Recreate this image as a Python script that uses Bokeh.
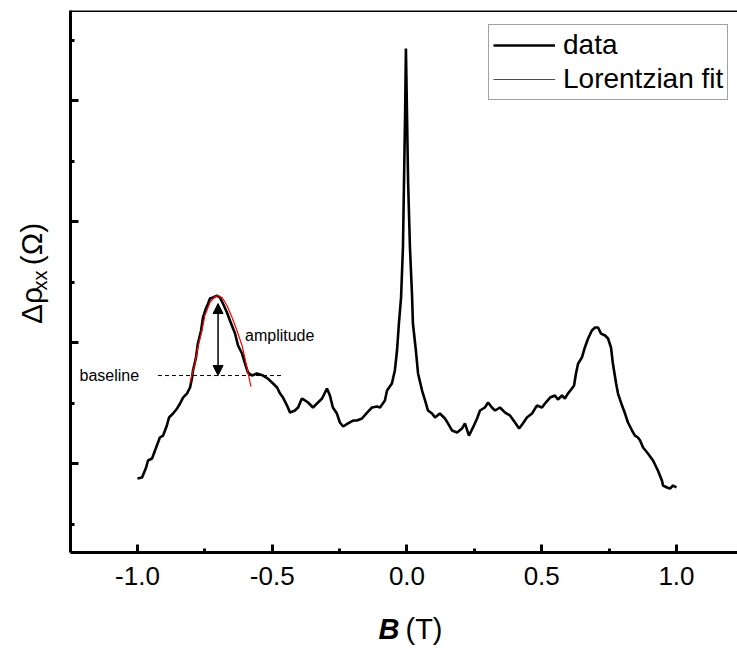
import math
from bokeh.plotting import figure
from bokeh.layouts import row, column
from bokeh.models import (Range1d, FixedTicker, Label, Legend, LegendItem,
                          Arrow, NormalHead, Span)
from bokeh.embed import file_html
from bokeh.resources import INLINE

# ---------------- data ----------------
B_data = [-1.000, -0.983, -0.968, -0.961, -0.946, -0.935, -0.917, -0.905, -0.891, -0.883,
          -0.868, -0.853, -0.842, -0.831, -0.816, -0.805, -0.798, -0.794, -0.783, -0.776,
          -0.764, -0.757, -0.746, -0.738, -0.731, -0.720, -0.705, -0.694, -0.683, -0.668,
          -0.657, -0.638, -0.627, -0.612, -0.601, -0.590, -0.575, -0.557, -0.534, -0.516,
          -0.497, -0.482, -0.471, -0.460, -0.445, -0.434, -0.416, -0.404, -0.390, -0.378,
          -0.367, -0.349, -0.334, -0.315, -0.297, -0.286, -0.275, -0.260, -0.249, -0.237,
          -0.219, -0.200, -0.186, -0.167, -0.148, -0.130, -0.111, -0.100, -0.082, -0.074,
          -0.056, -0.045, -0.037, -0.030, -0.022, -0.015, -0.011, -0.007, -0.004,
          0.000, 0.004, 0.011, 0.019, 0.022, 0.033, 0.041, 0.056, 0.067, 0.078,
          0.093, 0.104, 0.122, 0.141, 0.152, 0.167, 0.186, 0.204, 0.215, 0.230,
          0.245, 0.260, 0.271, 0.289, 0.301, 0.315, 0.327, 0.345, 0.364, 0.382,
          0.401, 0.416, 0.430, 0.445, 0.464, 0.482, 0.501, 0.512, 0.531, 0.549,
          0.560, 0.575, 0.586, 0.597, 0.612, 0.620, 0.627, 0.635, 0.649, 0.660,
          0.672, 0.686, 0.698, 0.709, 0.720, 0.735, 0.746, 0.757, 0.764, 0.776,
          0.783, 0.798, 0.809, 0.820, 0.835, 0.846, 0.857, 0.865, 0.876, 0.894,
          0.913, 0.931, 0.946, 0.950, 0.965, 0.976, 0.987, 1.000]
rho_data = [8.76, 8.84, 9.67, 10.25, 10.41, 11.07, 12.15, 12.31, 13.14, 13.80,
            14.13, 14.55, 14.96, 15.45, 15.79, 16.28, 17.02, 17.69, 18.76, 19.92,
            20.99, 22.07, 22.81, 23.22, 23.64, 23.72, 23.88, 23.72, 23.22, 22.48,
            21.82, 20.74, 19.75, 19.09, 18.26, 17.52, 17.27, 17.44, 17.27, 17.02,
            16.61, 16.28, 15.78, 15.45, 14.79, 14.21, 14.38, 14.63, 15.37, 15.21,
            15.04, 14.63, 14.96, 15.37, 16.20, 15.62, 14.63, 14.13, 13.39, 13.06,
            13.31, 13.55, 13.55, 13.72, 14.21, 14.63, 14.71, 14.63, 15.21, 16.03,
            16.61, 17.69, 19.34, 21.57, 23.72, 27.85, 33.39, 38.93, 44.30,
            38.93, 33.39, 27.85, 23.72, 21.57, 19.34, 17.44, 16.03, 15.21, 14.38,
            14.13, 13.80, 14.13, 13.72, 13.31, 12.73, 12.56, 12.89, 13.31, 12.31,
            12.98, 13.72, 14.38, 14.63, 15.04, 14.63, 14.38, 14.63, 14.21, 13.97,
            13.39, 12.89, 13.31, 13.80, 14.13, 14.79, 14.63, 14.96, 15.45, 15.62,
            15.29, 15.62, 15.37, 15.78, 16.20, 16.45, 17.44, 18.26, 18.76, 19.59,
            20.33, 20.99, 21.24, 21.24, 20.74, 20.58, 20.33, 19.59, 18.26, 16.61,
            15.78, 14.79, 14.13, 13.39, 12.73, 12.31, 12.15, 11.90, 11.32, 10.83,
            10.25, 9.42, 8.60, 8.18, 8.02, 7.93, 8.18, 8.02]

B_fit = [-0.805, -0.787, -0.776, -0.761, -0.750, -0.731, -0.712, -0.701, -0.686,
         -0.668, -0.649, -0.631, -0.612, -0.601, -0.590, -0.579]
rho_fit = [16.69, 18.26, 19.59, 20.99, 22.23, 23.31, 23.80, 23.88, 23.72,
           23.06, 22.07, 20.99, 19.75, 18.68, 17.52, 16.36]

baseline_B = [-0.924, -0.464]
baseline_level = 17.27
peak_B = -0.701
peak_level = 23.22

x_ticks = [-1.0, -0.5, 0.0, 0.5, 1.0]
x_tick_labels = ["-1.0", "-0.5", "0.0", "0.5", "1.0"]
x_minor = [-0.75, -0.25, 0.25, 0.75]
y_ticks = [10, 20, 30, 40]
y_minor = [5, 15, 25, 35, 45]

FONT = "Liberation Sans"
Y_TOP = 47.44

# ---------------- main plot ----------------
p = figure(width=679, height=600, output_backend="svg", toolbar_location=None,
           x_range=Range1d(-1.2486, 1.2264), y_range=Range1d(2.645, Y_TOP),
           min_border_left=12, min_border_right=0, min_border_top=10,
           min_border_bottom=48)
p.background_fill_color = "white"
p.border_fill_color = "white"
p.outline_line_color = None
p.xgrid.visible = False
p.ygrid.visible = False

for ax in (p.xaxis[0], p.yaxis[0]):
    ax.axis_line_width = 3
    ax.axis_line_color = "black"
    ax.major_tick_line_width = 3
    ax.minor_tick_line_width = 3
    ax.major_tick_in = 8
    ax.major_tick_out = 0
    ax.minor_tick_in = 4
    ax.minor_tick_out = 0
    ax.major_label_text_font = FONT
    ax.major_label_text_font_size = "26px"
    ax.major_label_text_color = "black"

p.xaxis.ticker = FixedTicker(ticks=x_ticks, minor_ticks=x_minor)
p.xaxis.major_label_overrides = {t: s for t, s in zip(x_ticks, x_tick_labels)}
p.xaxis.major_label_standoff = 14

p.yaxis.ticker = FixedTicker(ticks=y_ticks, minor_ticks=y_minor)
p.yaxis.major_label_overrides = {t: "" for t in y_ticks}
p.yaxis.major_label_standoff = 0

p.add_layout(Span(location=Y_TOP, dimension="width", line_color="black", line_width=3))

r_data = p.line(B_data, rho_data, line_color="black", line_width=2.6)
r_fit = p.line(B_fit, rho_fit, line_color="#ff0000", line_width=1.2)

p.line(baseline_B, [baseline_level, baseline_level], line_color="black",
       line_width=1, line_dash="4 3")
p.add_layout(Arrow(x_start=peak_B, y_start=baseline_level, x_end=peak_B, y_end=peak_level,
                   line_color="black", line_width=1.5,
                   start=NormalHead(size=10, fill_color="black", line_color="black"),
                   end=NormalHead(size=10, fill_color="black", line_color="black")))

p.add_layout(Label(x=-0.601, y=20.58, text="amplitude", text_font=FONT, text_color="black",
                   text_font_size="16px", text_align="left", text_baseline="middle"))
p.add_layout(Label(x=-0.994, y=baseline_level, text="baseline", text_font=FONT,
                   text_color="black", text_font_size="16px", text_align="right",
                   text_baseline="middle"))

legend = Legend(items=[LegendItem(label="data", renderers=[r_data]),
                       LegendItem(label="Lorentzian fit", renderers=[r_fit])],
                location=(418, 452))
legend.label_text_font = FONT
legend.label_text_font_size = "28px"
legend.label_text_color = "black"
legend.glyph_width = 62
legend.glyph_height = 30
legend.label_height = 30
legend.label_standoff = 8
legend.padding = 4
legend.spacing = 2
legend.margin = 0
legend.border_line_color = "#444444"
legend.border_line_width = 1
legend.background_fill_color = "white"
legend.background_fill_alpha = 1
p.add_layout(legend)


def strip(w, h):
    f = figure(width=w, height=h, output_backend="svg", toolbar_location=None,
               x_range=Range1d(0, w), y_range=Range1d(0, h),
               x_axis_type=None, y_axis_type=None,
               min_border_left=0, min_border_right=0, min_border_top=0, min_border_bottom=0)
    f.outline_line_color = None
    f.xgrid.visible = False
    f.ygrid.visible = False
    f.background_fill_color = "white"
    f.border_fill_color = "white"
    return f


# ---------------- y-axis title strip (left) ----------------
left = strip(58, 600)
left.add_layout(Label(x=31, y=253, text="Δρ", text_font=FONT, text_font_size="30px",
                      text_color="black", angle=math.pi / 2, text_align="left",
                      text_baseline="middle"))
left.add_layout(Label(x=39, y=290, text="xx", text_font=FONT, text_font_size="20px",
                      text_color="black", angle=math.pi / 2, text_align="left",
                      text_baseline="middle"))
left.add_layout(Label(x=31, y=318, text="(Ω)", text_font=FONT, text_font_size="30px",
                      text_color="black", angle=math.pi / 2, text_align="left",
                      text_baseline="middle"))

# ---------------- x-axis title strip (bottom) ----------------
bottom = strip(737, 48)
bottom.add_layout(Label(x=399, y=20, text="B", text_font=FONT, text_font_size="29px",
                        text_color="black", text_font_style="bold italic",
                        text_align="right", text_baseline="middle"))
bottom.add_layout(Label(x=405, y=20, text="(T)", text_font=FONT, text_font_size="29px",
                        text_color="black", text_align="left", text_baseline="middle"))

layout = column(row(left, p, spacing=0), bottom, spacing=0)
open("out.html", "w").write(file_html(layout, INLINE))
